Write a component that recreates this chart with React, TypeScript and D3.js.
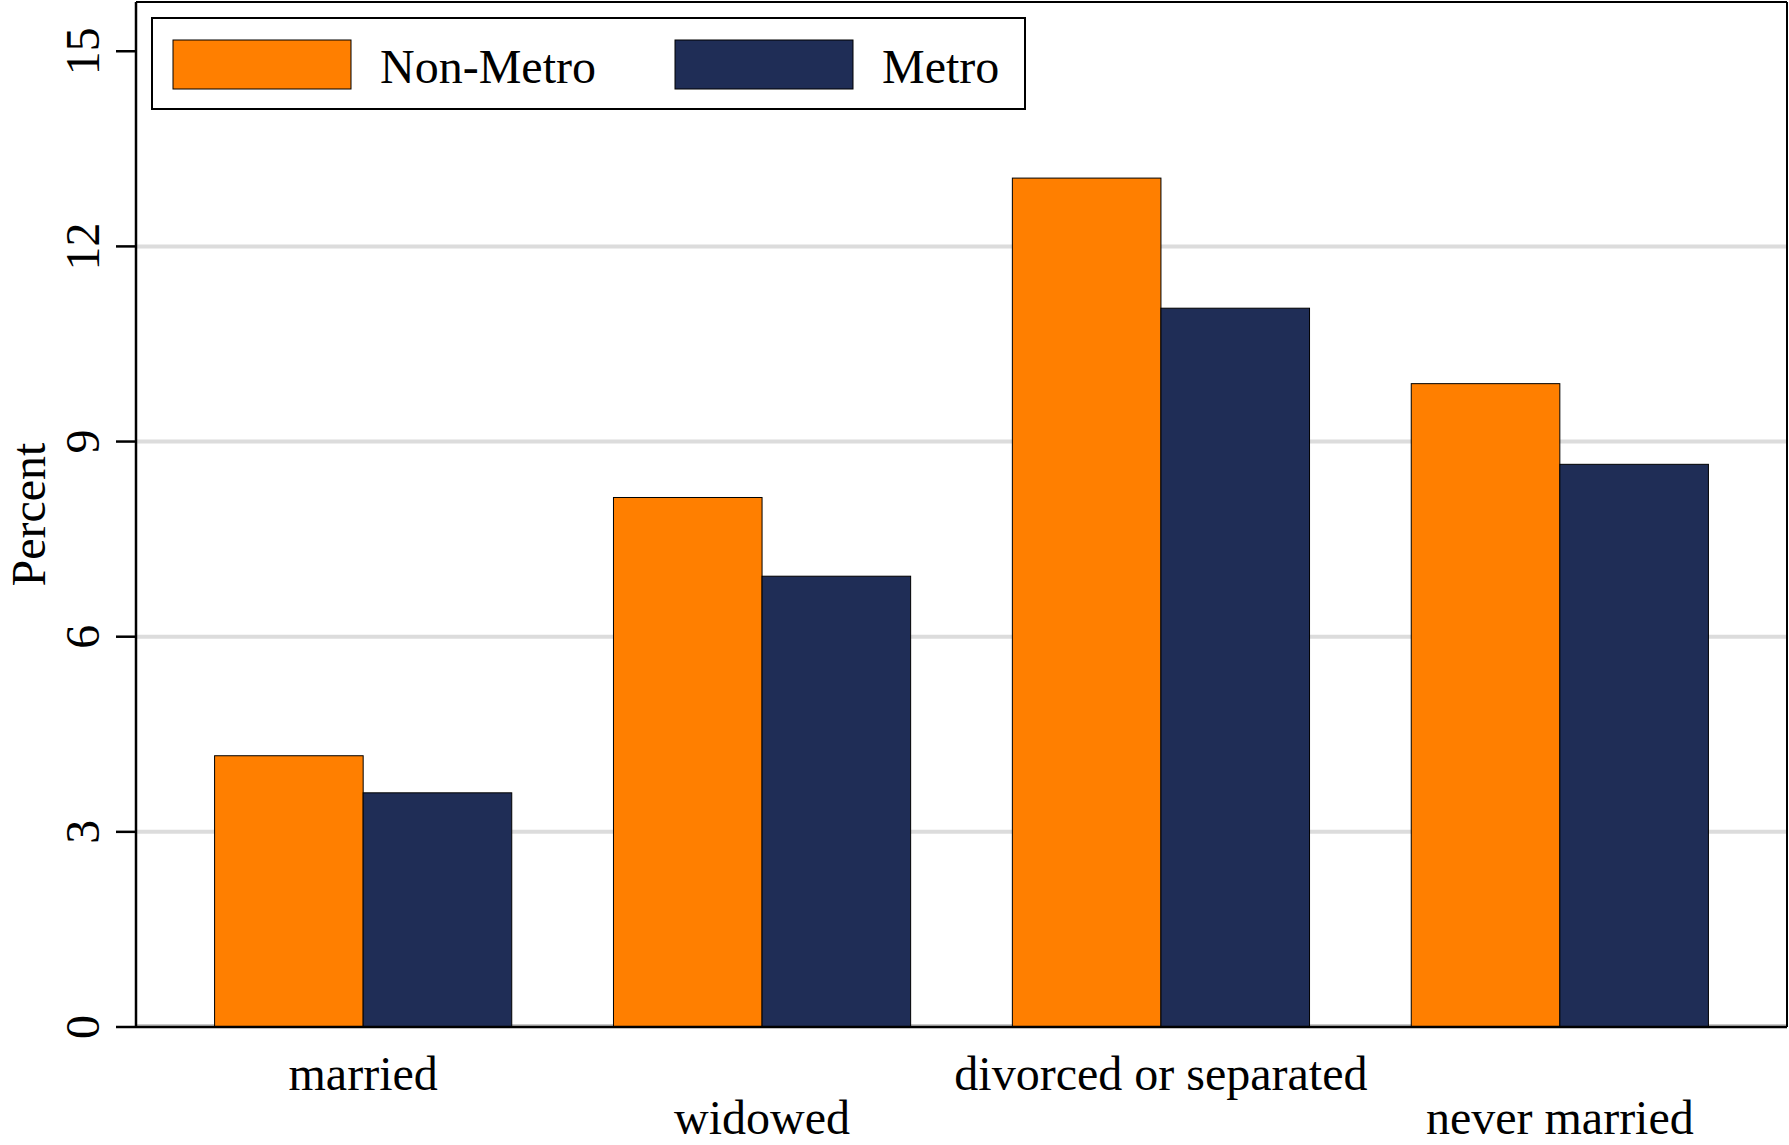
import React from "react";
import * as d3 from "d3";

const categories = ["married", "widowed", "divorced or separated", "never married"];
const seriesNames = ["Non-Metro", "Metro"];
const nonMetro = [4.17, 8.14, 13.05, 9.89];
const metro = [3.6, 6.93, 11.05, 8.65];
const yTicks = [0, 3, 6, 9, 12, 15];
const colors = ["#ff7f00", "#1f2d56"];

const W = 1789;
const H = 1145;
const left = 136;
const right = 1787;
const top = 2;
const bottom = 1027;
const FONT = "'Liberation Serif', 'Times New Roman', serif";

export default function App() {
  const x = d3
    .scaleBand<string>()
    .domain(categories)
    .range([left, right])
    .paddingInner(0.255)
    .paddingOuter(0.197);
  const x1 = d3.scaleBand<string>().domain(seriesNames).range([0, x.bandwidth()]);
  const y = d3.scaleLinear().domain([0, 15]).range([bottom, bottom - 15 * 65.05]);
  const series = [nonMetro, metro];

  return (
    <svg
      width={W}
      height={H}
      style={{ position: "absolute", left: 0, top: 0, display: "block", background: "#fff" }}
      fontFamily={FONT}
    >
      <rect x={0} y={0} width={W} height={H} fill="#fff" />
      {yTicks
        .filter((t) => t > 0 && t < 15)
        .map((t) => (
          <line key={"g" + t} x1={left} x2={right} y1={y(t)} y2={y(t)} stroke="#dcdcdc" strokeWidth={4} />
        ))}
      <line x1={left} x2={right} y1={bottom - 2} y2={bottom - 2} stroke="#c8c8c8" strokeWidth={2} />
      {categories.map((c, i) =>
        series.map((s, j) => (
          <rect
            key={c + j}
            x={(x(c) as number) + (x1(seriesNames[j]) as number)}
            y={y(s[i])}
            width={x1.bandwidth()}
            height={y(0) - y(s[i])}
            fill={colors[j]}
            stroke="#000"
            strokeWidth={1}
          />
        ))
      )}
      <line x1={left} x2={right} y1={top} y2={top} stroke="#000" strokeWidth={2} />
      <line x1={right} x2={right} y1={top} y2={bottom} stroke="#000" strokeWidth={2} />
      <line x1={left} x2={left} y1={top} y2={bottom + 1} stroke="#000" strokeWidth={2.5} />
      <line x1={left} x2={right} y1={bottom} y2={bottom} stroke="#000" strokeWidth={2.5} />
      {yTicks.map((t) => (
        <g key={"t" + t}>
          <line x1={left - 20} x2={left} y1={y(t)} y2={y(t)} stroke="#000" strokeWidth={2.5} />
          <text
            transform={`translate(${99},${y(t)}) rotate(-90)`}
            textAnchor="middle"
            fontSize={48}
            fill="#000"
          >
            {t}
          </text>
        </g>
      ))}
      <text
        transform={`translate(${45},${(top + bottom) / 2}) rotate(-90)`}
        textAnchor="middle"
        fontSize={48}
        fill="#000"
      >
        Percent
      </text>
      {categories.map((c, i) => (
        <text
          key={"l" + c}
          x={(x(c) as number) + x.bandwidth() / 2}
          y={i % 2 === 0 ? 1090 : 1134}
          textAnchor="middle"
          fontSize={48}
          fill="#000"
        >
          {c}
        </text>
      ))}
      <rect x={152} y={18} width={873} height={91} fill="#fff" stroke="#000" strokeWidth={2} />
      {seriesNames.map((n, j) => (
        <g key={"lg" + n}>
          <rect
            x={j === 0 ? 173 : 675}
            y={40}
            width={178}
            height={49}
            fill={colors[j]}
            stroke="#000"
            strokeWidth={1}
          />
          <text x={j === 0 ? 380 : 882} y={83} fontSize={48} fill="#000">
            {n}
          </text>
        </g>
      ))}
    </svg>
  );
}
